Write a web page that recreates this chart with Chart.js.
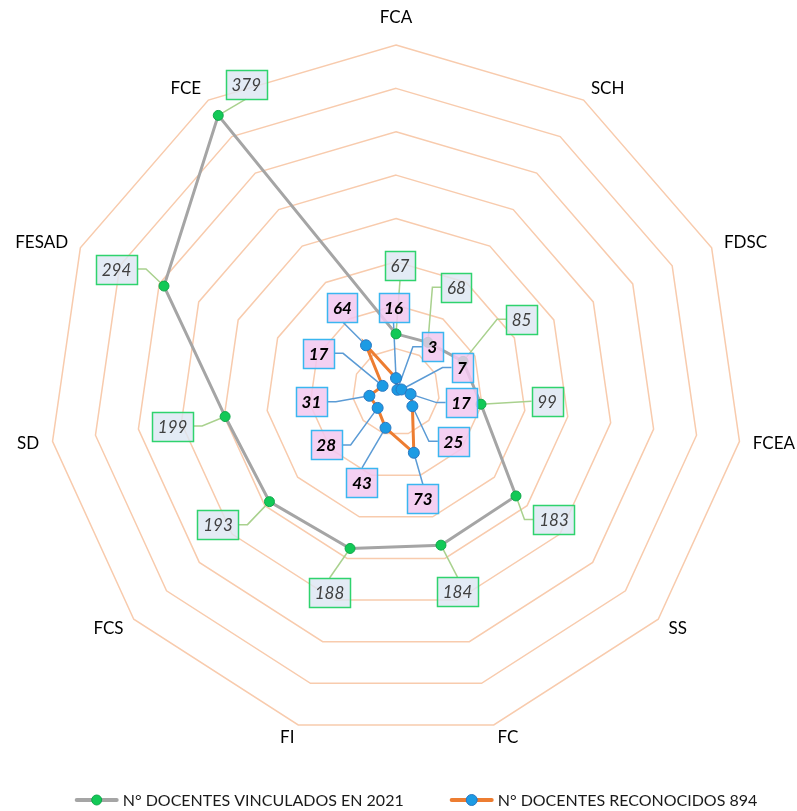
<!DOCTYPE html>
<html>
<head>
<meta charset="utf-8">
<script src="https://cdn.jsdelivr.net/npm/chart.js@4.4.1/dist/chart.umd.min.js"></script>
<style>
  html, body { margin: 0; padding: 0; background: #fff; }
  #wrap { width: 797px; height: 811px; }
</style>
</head>
<body>
<div id="wrap"><canvas id="radar" width="797" height="811"></canvas></div>
<script>
// data
const categories = ['FCA', 'SCH', 'FDSC', 'FCEA', 'SS', 'FC', 'FI', 'FCS', 'SD', 'FESAD', 'FCE'];
const vinculados = [67, 68, 85, 99, 183, 184, 188, 193, 199, 294, 379];
const reconocidos = [16, 3, 7, 17, 25, 73, 43, 28, 31, 17, 64];
const seriesNames = ['N° DOCENTES VINCULADOS EN 2021', 'N° DOCENTES RECONOCIDOS 894'];
const scaleMax = 400;
const scaleStep = 50;

// where each value box sits relative to its point (px)
const vincOffsets = [[4, -68], [28.5, -55], [58.5, -42], [66, -3], [38, 23.5], [16.5, 46.5], [-20.5, 44], [-51.5, 23], [-52.5, 9.5], [-47.5, -17], [28, -31]];
const recoOffsets = [[-2.5, -70.5], [35, -43], [60.5, -22], [50.5, 8.5], [41, 35], [9, 46], [-23.5, 54.5], [-51.5, 37], [-58, 6], [-64, -32.5], [-23.5, -38]];

const labelStyles = [
    { font: 'italic 17px Lato', color: '#404040', fill: 'rgba(220,230,242,0.8)', border: '#2fd36e', leader: '#a9d18e', offsets: vincOffsets },
    { font: 'italic bold 17px Lato', color: '#000000', fill: 'rgba(242,200,240,0.85)', border: '#3ab6f0', leader: '#5b9bd5', offsets: recoOffsets },
];

function boxGeom(ctx, chart, di, i) {
    const st = labelStyles[di];
    const pt = chart.getDatasetMeta(di).data[i];
    ctx.font = st.font;
    const txt = String(chart.data.datasets[di].data[i]);
    const w = Math.round(ctx.measureText(txt).width + 11);
    const h = 29;
    const [ox, oy] = st.offsets[i];
    return { pt, txt, w, h, ox, oy, cx: pt.x + ox, cy: pt.y + oy };
}

// leader lines go under the points, boxes over everything
const valueBoxes = {
    id: 'valueBoxes',
    beforeDatasetsDraw(chart) {
        const ctx = chart.ctx;
        ctx.save();
        chart.data.datasets.forEach((ds, di) => {
            ds.data.forEach((v, i) => {
                const g = boxGeom(ctx, chart, di, i);
                ctx.strokeStyle = labelStyles[di].leader;
                ctx.lineWidth = 1.5;
                ctx.beginPath();
                if (Math.abs(g.ox) < g.w / 2 + 10) {
                    const ay = g.oy < 0 ? g.cy + g.h / 2 : g.cy - g.h / 2;
                    ctx.moveTo(g.cx, ay);
                } else {
                    const s = g.ox > 0 ? -1 : 1;
                    const ax = g.cx + s * g.w / 2;
                    ctx.moveTo(ax, g.cy);
                    if (Math.abs(g.cy - g.pt.y) > 4) ctx.lineTo(ax + s * 9, g.cy);
                }
                ctx.lineTo(g.pt.x, g.pt.y);
                ctx.stroke();
            });
        });
        ctx.restore();
    },
    afterDatasetsDraw(chart) {
        const ctx = chart.ctx;
        ctx.save();
        chart.data.datasets.forEach((ds, di) => {
            const st = labelStyles[di];
            ds.data.forEach((v, i) => {
                const g = boxGeom(ctx, chart, di, i);
                const x = Math.round(g.cx - g.w / 2) + 0.5;
                const y = Math.round(g.cy - g.h / 2) + 0.5;
                ctx.fillStyle = st.fill;
                ctx.fillRect(x, y, g.w, g.h);
                ctx.strokeStyle = st.border;
                ctx.lineWidth = 1.5;
                ctx.strokeRect(x, y, g.w, g.h);
                ctx.fillStyle = st.color;
                ctx.textAlign = 'center';
                ctx.textBaseline = 'middle';
                ctx.fillText(g.txt, g.cx, g.cy + 1);
            });
        });
        ctx.restore();
    }
};

// category names around the outer ring
const spokeLabels = {
    id: 'spokeLabels',
    afterDraw(chart) {
        const scale = chart.scales.r;
        const ctx = chart.ctx;
        ctx.save();
        ctx.font = '17px Lato';
        ctx.fillStyle = '#000';
        ctx.textBaseline = 'middle';
        categories.forEach((name, i) => {
            const a = scale.getIndexAngle(i);
            const sn = Math.sin(a), cs = Math.cos(a);
            const p = scale.getPointPosition(i, scale.drawingArea);
            let x = p.x, y = p.y - cs * 13.5;
            if (Math.abs(sn) < 0.05) {
                ctx.textAlign = 'center';
                y -= Math.sign(cs) * 14;
            } else {
                ctx.textAlign = sn > 0 ? 'left' : 'right';
                x += sn * 13.5;
            }
            ctx.fillText(name, x, y);
        });
        ctx.restore();
    }
};

const lineLegend = {
    id: 'lineLegend',
    afterDraw(chart) {
        const ctx = chart.ctx;
        const ds = chart.data.datasets;
        ctx.save();
        ctx.font = '16px Lato';
        ctx.textBaseline = 'middle';
        const y = 800, lineLen = 40, gap = 6, between = 48;
        const widths = ds.map(d => lineLen + gap + ctx.measureText(d.label).width);
        const total = widths.reduce((a, b) => a + b, 0) + between;
        let x = 417 - total / 2;
        ds.forEach((d, i) => {
            ctx.strokeStyle = d.borderColor;
            ctx.lineWidth = 4;
            ctx.lineCap = 'round';
            ctx.beginPath();
            ctx.moveTo(x, y);
            ctx.lineTo(x + lineLen, y);
            ctx.stroke();
            ctx.beginPath();
            ctx.arc(x + lineLen / 2, y, d.pointRadius, 0, Math.PI * 2);
            ctx.fillStyle = d.pointBackgroundColor;
            ctx.fill();
            ctx.lineWidth = 1;
            ctx.strokeStyle = d.pointBorderColor;
            ctx.stroke();
            ctx.fillStyle = '#1a1a1a';
            ctx.textAlign = 'left';
            ctx.fillText(d.label, x + lineLen + gap, y + 1);
            x += widths[i] + between;
        });
        ctx.restore();
    }
};

new Chart(document.getElementById('radar'), {
    type: 'radar',
    data: {
        labels: categories,
        datasets: [
            {
                label: seriesNames[0],
                data: vinculados,
                order: 1,
                borderColor: '#a5a5a5',
                borderWidth: 3,
                backgroundColor: 'transparent',
                fill: false,
                pointRadius: 5,
                pointBackgroundColor: '#12c957',
                pointBorderColor: '#0fa84a',
                pointBorderWidth: 1,
            },
            {
                label: seriesNames[1],
                data: reconocidos,
                order: 0,
                borderColor: '#ed7d31',
                borderWidth: 3,
                backgroundColor: 'transparent',
                fill: false,
                pointRadius: 5.5,
                pointBackgroundColor: '#1c9be4',
                pointBorderColor: '#2a78c2',
                pointBorderWidth: 1,
            }
        ]
    },
    options: {
        responsive: false,
        animation: false,
        layout: { padding: 0 },
        plugins: {
            legend: { display: false },
            tooltip: { enabled: false }
        },
        scales: {
            r: {
                min: 0,
                max: scaleMax,
                ticks: { stepSize: scaleStep, display: false },
                grid: { color: '#f8cbad', lineWidth: 1.5 },
                angleLines: { display: false },
                pointLabels: { display: false },
                afterFit: (scale) => {
                    scale.xCenter = 396;
                    scale.yCenter = 392;
                    scale.drawingArea = 347;
                }
            }
        }
    },
    plugins: [valueBoxes, spokeLabels, lineLegend]
});
</script>
</body>
</html>
